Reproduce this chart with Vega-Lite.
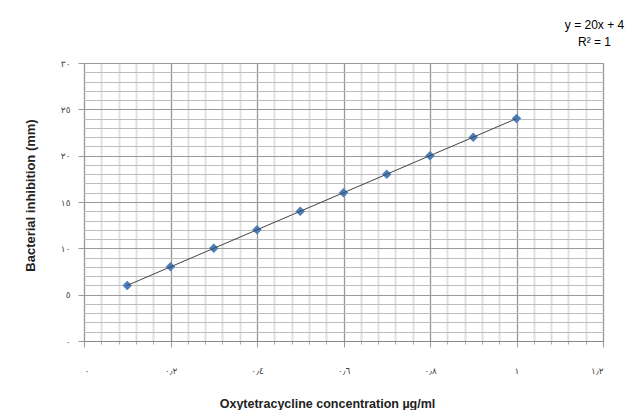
{
  "$schema": "https://vega.github.io/schema/vega-lite/v6.json",
  "width": 519,
  "height": 278,
  "autosize": {"type": "none"},
  "padding": {"left": 84, "top": 63, "right": 39, "bottom": 69},
  "background": "white",
  "config": {"view": {"stroke": null}},
  "title": {
    "text": "y = 20x + 4",
    "subtitle": "R² = 1",
    "anchor": "end",
    "align": "center",
    "dx": -9,
    "offset": 10,
    "font": "Liberation Sans",
    "subtitleFont": "Liberation Sans",
    "fontSize": 12,
    "subtitleFontSize": 12,
    "fontWeight": "normal",
    "color": "black",
    "subtitleColor": "black",
    "subtitlePadding": 5
  },
  "data": {
    "values": [
      {"x": 0.1, "y": 6},
      {"x": 0.2, "y": 8},
      {"x": 0.3, "y": 10},
      {"x": 0.4, "y": 12},
      {"x": 0.5, "y": 14},
      {"x": 0.6, "y": 16},
      {"x": 0.7, "y": 18},
      {"x": 0.8, "y": 20},
      {"x": 0.9, "y": 22},
      {"x": 1.0, "y": 24}
    ]
  },
  "layer": [
    {
      "mark": {"type": "point", "shape": "diamond", "filled": true, "size": 90, "color": "#4a7ebb", "opacity": 1},
      "encoding": {
        "x": {
          "field": "x", "type": "quantitative",
          "scale": {"domain": [0, 1.2], "nice": false, "zero": false},
          "axis": {
            "orient": "bottom",
            "values": [0,0.04,0.08,0.12,0.16,0.2,0.24,0.28,0.32,0.36,0.4,0.44,0.48,0.52,0.56,0.6,0.64,0.68,0.72,0.76,0.8,0.84,0.88,0.92,0.96,1,1.04,1.08,1.12,1.16,1.2],
            "labels": false, "domain": false, "title": null,
            "grid": true, "gridColor": "#e0e0e0", "gridWidth": 2,
            "ticks": true, "tickSize": 3, "tickColor": "#aaaaaa"
          }
        },
        "y": {
          "field": "y", "type": "quantitative",
          "scale": {"domain": [0, 30], "nice": false, "zero": false},
          "axis": {
            "orient": "left",
            "values": [0,1,2,3,4,5,6,7,8,9,10,11,12,13,14,15,16,17,18,19,20,21,22,23,24,25,26,27,28,29,30],
            "labels": false, "domain": false, "title": null, "ticks": false,
            "grid": true, "gridColor": "#bdbdbd", "gridWidth": 1
          }
        }
      }
    },
    {
      "mark": {"type": "line", "color": "#444444", "strokeWidth": 1},
      "encoding": {
        "x": {
          "field": "x", "type": "quantitative",
          "axis": {
            "orient": "bottom",
            "values": [0, 0.2, 0.4, 0.6, 0.8, 1, 1.2],
            "grid": true, "gridColor": "#999999", "gridWidth": 1,
            "domainColor": "#888888", "tickColor": "#999999", "tickSize": 6,
            "labelExpr": "replace(replace(replace(replace(replace(replace(replace(toString(datum.value),'0','٠'),'1','١'),'2','٢'),'4','٤'),'6','٦'),'8','٨'),'.','٫')",
            "labelFont": "DejaVu Sans", "labelFontSize": 9, "labelColor": "#444444",
            "labelPadding": 19,
            "title": "Oxytetracycline concentration µg/ml",
            "titleFont": "Liberation Sans", "titleFontSize": 12.5, "titleFontWeight": "bold", "titleColor": "#222222",
            "titleX": 243, "titleY": 62, "titleBaseline": "middle", "titleAlign": "center"
          }
        },
        "y": {
          "field": "y", "type": "quantitative",
          "axis": {
            "orient": "left",
            "values": [0, 5, 10, 15, 20, 25, 30],
            "grid": true, "gridColor": "#999999", "gridWidth": 1,
            "domain": false, "tickColor": "#999999", "tickSize": 6,
            "labelExpr": "replace(replace(replace(replace(replace(toString(datum.value),'0','٠'),'1','١'),'2','٢'),'3','٣'),'5','٥')",
            "labelFont": "DejaVu Sans", "labelFontSize": 9, "labelColor": "#444444",
            "labelPadding": 8,
            "title": "Bacterial inhibition (mm)",
            "titleFont": "Liberation Sans", "titleFontSize": 13, "titleFontWeight": "bold", "titleColor": "#222222",
            "titleX": -54, "titleY": 132, "titleBaseline": "middle", "titleAlign": "center", "titleAngle": -90
          }
        }
      }
    }
  ],
  "resolve": {"axis": {"x": "independent", "y": "independent"}}
}
